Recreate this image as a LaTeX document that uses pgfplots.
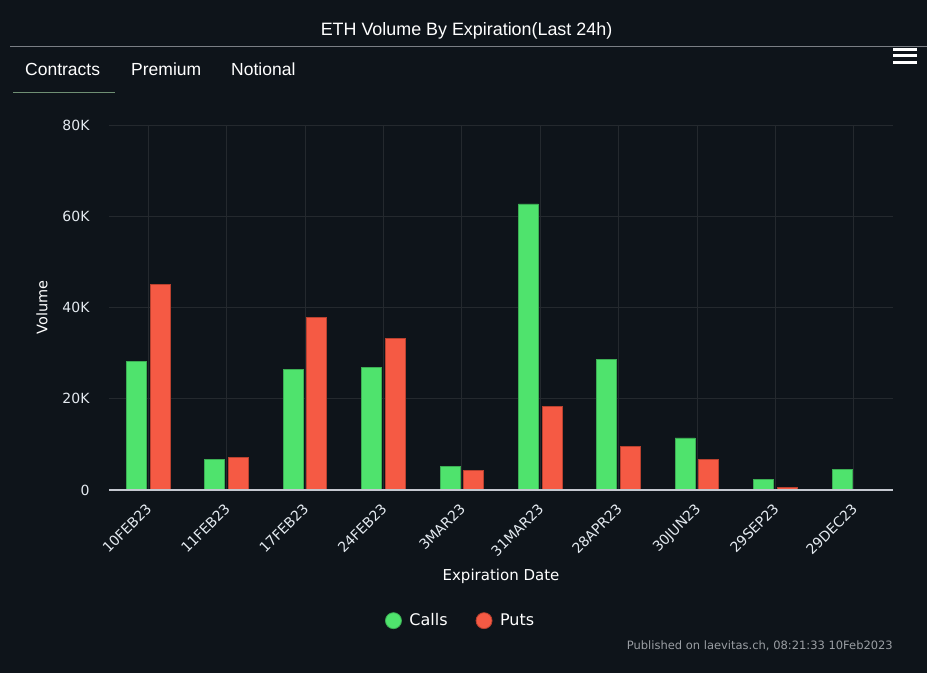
\documentclass[border=0pt]{standalone}
\usepackage{pgfplots}
\pgfplotsset{compat=1.18}
\usepackage{fontspec}
\setmainfont{DejaVu Sans}
\newfontfamily\hdrfont{Liberation Sans}
\definecolor{bg}{HTML}{0E141A}
\definecolor{gridc}{HTML}{24292E}
\definecolor{axisc}{HTML}{C4C8D0}
\definecolor{callc}{HTML}{4FE36D}
\definecolor{callb}{HTML}{3CAE54}
\definecolor{putc}{HTML}{F55A44}
\definecolor{putb}{HTML}{B8412F}
\definecolor{tickc}{HTML}{E4EAF0}
\definecolor{hdrline}{HTML}{7A7E84}
\definecolor{tabline}{HTML}{6F8F73}
\definecolor{pubc}{HTML}{9A9EA3}

\begin{document}
\begin{tikzpicture}[x=1pt,y=1pt]
\fill[bg] (0,0) rectangle (927,673);
\path[use as bounding box] (0,0) rectangle (927,673);

% header
\node[text=white, font=\hdrfont\fontsize{17.9}{20}\selectfont] at (466.5,642.5) {ETH Volume By Expiration(Last 24h)};
\draw[hdrline, line width=1pt] (10,626) -- (927,626);
\node[anchor=west, inner sep=0, text=white, font=\hdrfont\fontsize{17.5}{19}\selectfont] at (25,604) {Contracts};
\node[anchor=west, inner sep=0, text=white, font=\hdrfont\fontsize{17.5}{19}\selectfont] at (131,604) {Premium};
\node[anchor=west, inner sep=0, text=white, font=\hdrfont\fontsize{17.5}{19}\selectfont] at (231,604) {Notional};
\draw[tabline, line width=1pt] (13,580) -- (115,580);
% menu icon
\fill[white] (893,622) rectangle (917,625);
\fill[white] (893,615.5) rectangle (917,618.5);
\fill[white] (893,609) rectangle (917,612);

\begin{axis}[
  at={(109pt,183pt)}, anchor=south west,
  scale only axis, width=784pt, height=365pt,
  xmin=-0.5, xmax=9.5, ymin=0, ymax=80000,
  ybar, bar width=20pt,
  axis line style={draw=none},
  major tick length=0pt,
  xtick={0,...,9},
  xticklabels={10FEB23,11FEB23,17FEB23,24FEB23,3MAR23,31MAR23,28APR23,30JUN23,29SEP23,29DEC23},
  ytick={0,20000,40000,60000,80000},
  yticklabels={0,20K,40K,60K,80K},
  scaled y ticks=false,
  grid=major,
  grid style={gridc, line width=1pt},
  yticklabel style={text=tickc, font=\fontsize{14}{16}\selectfont, xshift=-16pt},
  xticklabel style={text=tickc, font=\fontsize{14}{16}\selectfont, xshift=-3pt, yshift=-7.5pt, rotate=45, anchor=north east},
  ylabel={Volume},
  xlabel={Expiration Date},
  every axis y label/.style={at={(axis description cs:-0.0855,0.5)}, rotate=90, anchor=center, text=white, font=\fontsize{14.5}{16}\selectfont},
  every axis x label/.style={at={(axis description cs:0.5,-0.2356)}, anchor=center, text=white, font=\fontsize{15}{17}\selectfont},
  legend image code/.code={\fill[#1] (0pt,0pt) circle (8pt); \path[draw=none, fill=none] (-8pt,0pt) -- (14pt,0pt);},
  legend style={at={(axis description cs:0.4485,-0.358)}, anchor=center, legend columns=2, draw=none, fill=none, text=white, font=\fontsize{16}{18}\selectfont, /tikz/every even column/.append style={column sep=26pt}},
  clip=false,
]
\addplot[fill=callc, draw=callb, line width=0.8pt, bar shift=-11.8pt]
  coordinates {(0,28100)(1,6700)(2,26500)(3,26800)(4,5100)(5,62700)(6,28700)(7,11400)(8,2300)(9,4500)};
\addplot[fill=putc, draw=putb, line width=0.8pt, bar shift=11.8pt]
  coordinates {(0,45100)(1,7100)(2,37800)(3,33300)(4,4300)(5,18300)(6,9500)(7,6700)(8,500)(9,0)};
\legend{Calls, Puts}
\draw[axisc, line width=1.3pt] (rel axis cs:0,0) -- (rel axis cs:1,0);
\end{axis}

\node[anchor=east, inner sep=0, text=pubc, font=\fontsize{11.5}{13}\selectfont] at (893,27) {Published on laevitas.ch, 08:21:33 10Feb2023};
\end{tikzpicture}
\end{document}
